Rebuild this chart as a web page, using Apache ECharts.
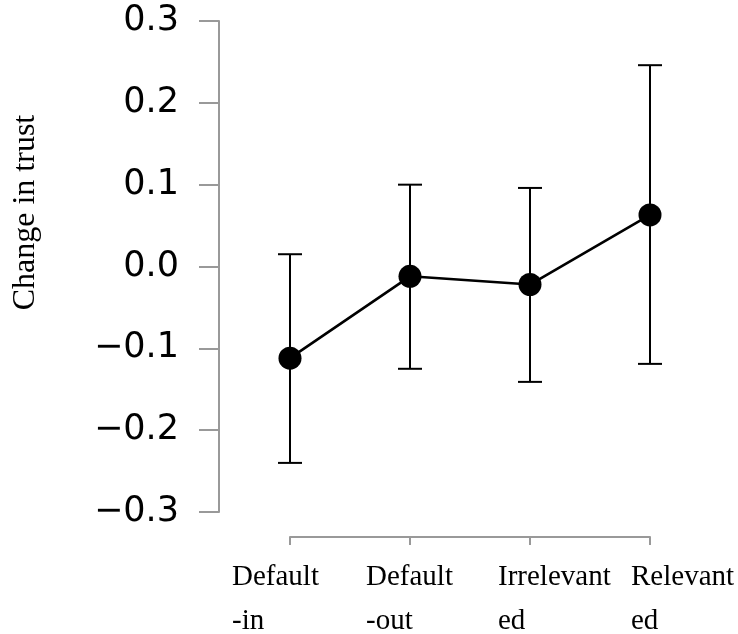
<!DOCTYPE html>
<html>
<head>
<meta charset="utf-8">
<script src="https://cdn.jsdelivr.net/npm/echarts@6/dist/echarts.min.js"></script>
<style>
  html, body { margin: 0; padding: 0; background: #fff; }
  #chart { width: 738px; height: 634px; }
</style>
</head>
<body>
<div id="chart"></div>
<script>
// 类别（两行标签）
const categories = ['Default\n-in', 'Default\n-out', 'Irrelevant\ned', 'Relevant\ned'];
// 均值
const meanValues = [-0.112, -0.012, -0.022, 0.063];
// 误差区间
const lowerValues = [-0.240, -0.125, -0.141, -0.119];
const upperValues = [0.015, 0.100, 0.096, 0.246];
// 标签盒宽度（标签左移量的两倍）
const labelBoxWidths = [116, 88, 64, 38];

const serif = '"Liberation Serif", "Times New Roman", serif';

const richStyles = {};
labelBoxWidths.forEach((w, i) => {
    richStyles['w' + i] = {
        width: w,
        align: 'left',
        fontFamily: serif,
        fontSize: 29,
        lineHeight: 44,
        color: '#000'
    };
});

const errorData = categories.map((c, i) => [i, lowerValues[i], upperValues[i]]);

const option = {
    animation: false,
    grid: { left: 290, right: 88, top: 21, bottom: 122, outerBoundsMode: 'none', containLabel: false },
    xAxis: {
        type: 'category',
        data: categories,
        boundaryGap: false,
        offset: 25,
        axisLine: { onZero: false, lineStyle: { color: '#999', width: 2 } },
        axisTick: { length: 8, lineStyle: { color: '#999', width: 2 } },
        axisLabel: {
            interval: 0,
            margin: 18,
            align: 'center',
            fontFamily: serif,
            fontSize: 29,
            lineHeight: 44,
            color: '#000',
            formatter: (value, index) => value.split('\n').map(s => '{w' + index + '|' + s + '}').join('\n'),
            rich: richStyles
        },
        splitLine: { show: false }
    },
    yAxis: {
        type: 'value',
        min: -0.3,
        max: 0.3,
        interval: 0.1,
        offset: 71,
        name: 'Change in trust',
        nameLocation: 'middle',
        nameGap: 177,
        nameTextStyle: {
            fontFamily: serif,
            fontSize: 32,
            color: '#000',
            padding: [0, 0, 0, 108]
        },
        axisLine: { show: true, onZero: false, lineStyle: { color: '#999', width: 2 } },
        axisTick: { show: true, length: 20, lineStyle: { color: '#999', width: 2 } },
        axisLabel: {
            margin: 40,
            fontFamily: '"DejaVu Sans", sans-serif',
            fontSize: 35,
            color: '#000',
            formatter: v => (v < -1e-9 ? '\u2212' : '') + Math.abs(v).toFixed(1)
        },
        splitLine: { show: false }
    },
    series: [
        {
            // 误差线
            type: 'custom',
            data: errorData,
            clip: false,
            z: 2,
            renderItem: (params, api) => {
                const idx = api.value(0);
                const lo = api.coord([idx, api.value(1)]);
                const hi = api.coord([idx, api.value(2)]);
                const hw = 12;
                const style = { stroke: '#000', lineWidth: 2 };
                return {
                    type: 'group',
                    children: [
                        { type: 'line', shape: { x1: lo[0], y1: lo[1], x2: hi[0], y2: hi[1] }, style: style },
                        { type: 'line', shape: { x1: lo[0] - hw, y1: lo[1], x2: lo[0] + hw, y2: lo[1] }, style: style },
                        { type: 'line', shape: { x1: hi[0] - hw, y1: hi[1], x2: hi[0] + hw, y2: hi[1] }, style: style }
                    ]
                };
            }
        },
        {
            // 均值折线
            type: 'line',
            data: meanValues,
            clip: false,
            z: 3,
            symbol: 'circle',
            symbolSize: 23,
            itemStyle: { color: '#000' },
            lineStyle: { color: '#000', width: 2.6 }
        }
    ]
};

const chart = echarts.init(document.getElementById('chart'));
chart.setOption(option);
</script>
</body>
</html>
